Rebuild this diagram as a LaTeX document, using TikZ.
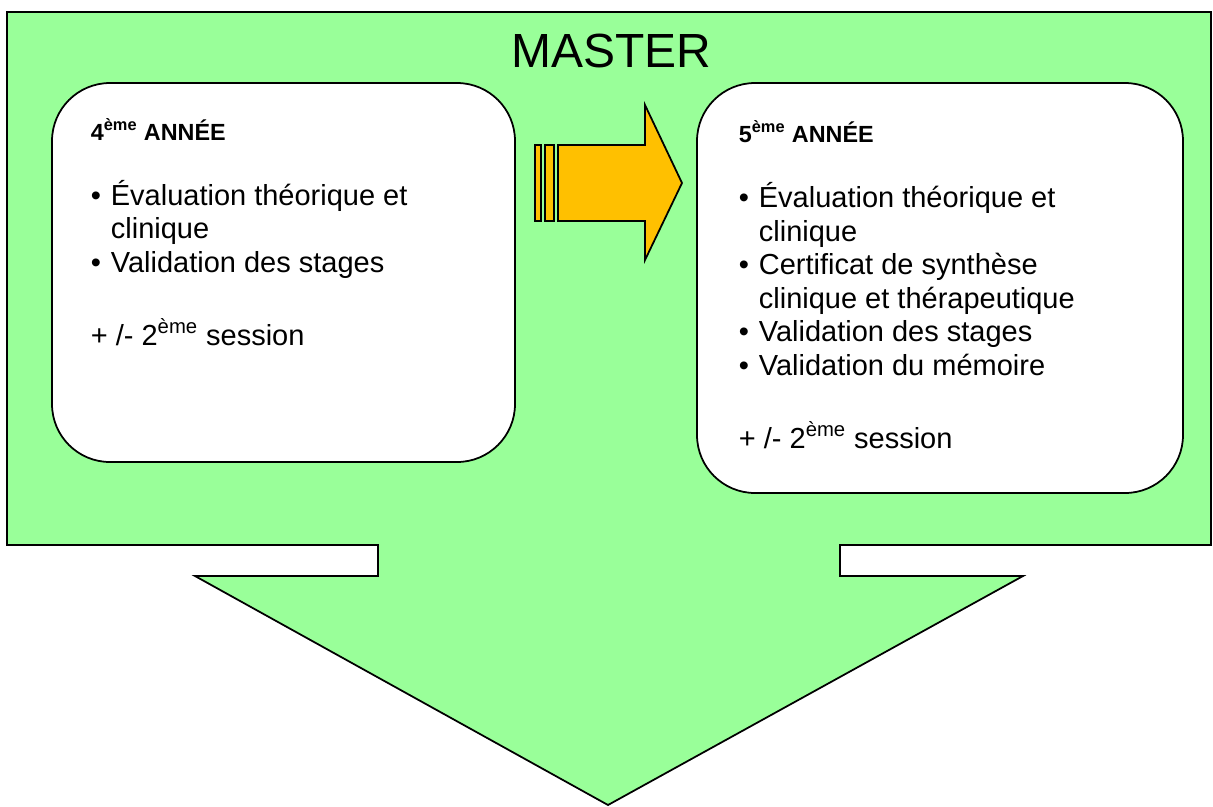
\documentclass[tikz,border=0pt]{standalone}
\usepackage{fontspec}
\setmainfont{Liberation Sans}
\usetikzlibrary{fit}
\definecolor{mastergreen}{RGB}{153,255,153}
\definecolor{stepgold}{RGB}{255,192,0}
\newcommand{\eme}{\textsuperscript{ème}}
\newcommand{\bul}{\makebox[11.4pt][l]{•}}
\newcommand{\hang}{\hspace*{11.4pt}}
\begin{document}
\begin{tikzpicture}[x=0.02cm, y=-0.02cm, line width=1pt,
    yearbox/.style={draw, fill=white, rounded corners=1.16cm, inner sep=0pt},
    head/.style={anchor=base west, inner sep=0pt, font=\fontsize{13.3}{16}\selectfont\bfseries},
    body/.style={anchor=base west, inner sep=0pt, align=left, font=\fontsize{16.5}{19.06}\selectfont}]
    \useasboundingbox (0,0) rectangle (1213,806);
    \draw[fill=mastergreen] (7,12) -- (1211,12) -- (1211,545) -- (840,545) -- (840,576) -- (1023,576)
        -- (608,805) -- (195,576) -- (378,576) -- (378,545) -- (7,545) -- cycle;
    \node[anchor=base, inner sep=0pt, font=\fontsize{27.3}{32}\selectfont] (master) at (611,67) {MASTER};
    \node[yearbox, fit={(52,83) (515,462)}] (y4) {};
    \node[yearbox, fit={(697,83) (1183,493)}] (y5) {};
    \draw[fill=stepgold] (535,145) rectangle (541,221);
    \draw[fill=stepgold] (545,145) rectangle (554,221);
    \draw[fill=stepgold] (558,145) -- (645,145) -- (645,105) -- (682,183) -- (645,260) -- (645,221) -- (558,221) -- cycle;
    % multi-line nodes sit on their last line
    \node[head] (h4) at (90,140) {4\eme{} ANNÉE};
    \node[body] (b4) at (90,272) {\bul Évaluation théorique et\\ \hang clinique\\ \bul Validation des stages};
    \node[body] (s4) at (90,345) {+ /- 2\eme{} session};
    \node[head] (h5) at (738,142) {5\eme{} ANNÉE};
    \node[body] (b5) at (738,375) {\bul Évaluation théorique et\\ \hang clinique\\ \bul Certificat de synthèse\\
        \hang clinique et thérapeutique\\ \bul Validation des stages\\ \bul Validation du mémoire};
    \node[body] (s5) at (738,448) {+ /- 2\eme{} session};
\end{tikzpicture}
\end{document}
